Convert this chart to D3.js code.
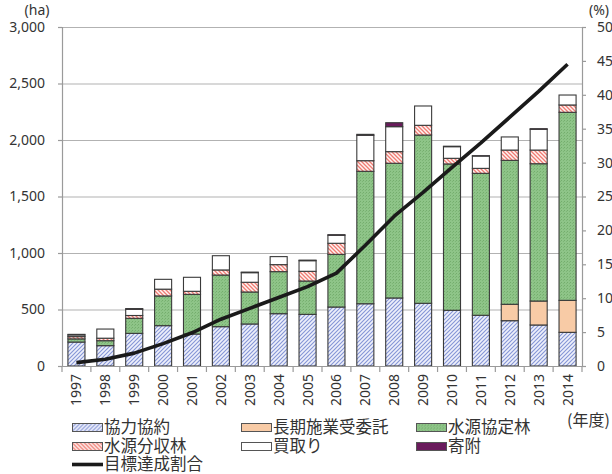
<!DOCTYPE html>
<html>
<head>
<meta charset="utf-8">
<script src="https://cdn.jsdelivr.net/npm/d3@7"></script>
<style>
  html, body { margin: 0; padding: 0; background: #fff; }
  svg { display: block; font-family: "Noto Sans CJK JP", "Noto Sans", sans-serif; }
</style>
</head>
<body>
<svg id="chart" width="612" height="474"></svg>
<script>
// 年度
const years = ["1997","1998","1999","2000","2001","2002","2003","2004","2005",
               "2006","2007","2008","2009","2010","2011","2012","2013","2014"];

// 面積 (ha) — 区分ごと
const kyoryokuKyoyaku = [212,180,289,357,283,348,372,463,457,522,551,602,555,493,449,401,363,298];
const chokiSesgyo     = [0,0,0,0,0,0,0,0,0,0,0,0,0,0,0,145,212,283];
const suigenKyotei    = [28,44,133,263,351,457,283,372,295,466,1172,1192,1489,1295,1256,1274,1215,1664];
const suigenBunshu    = [20,22,25,60,27,45,86,62,86,98,94,103,86,50,44,91,121,65];
const kaitori         = [15,81,55,87,124,126,85,71,94,71,225,221,171,103,109,116,184,88];
const kifu            = [5,0,6,0,0,0,5,0,5,5,8,35,0,4,3,0,5,0];

// 目標達成割合 (%)
const tassei = [0.5,1.0,1.9,3.3,4.9,6.9,8.5,10.1,11.7,13.7,17.8,22.1,25.6,29.3,32.9,36.7,40.5,44.5];

// 軸目盛
const haTicks  = [0,500,1000,1500,2000,2500,3000];
const pctTicks = [0,5,10,15,20,25,30,35,40,45,50];

const seriesNames = ["協力協約","長期施業受委託","水源協定林","水源分収林","買取り","寄附"];
const seriesData  = [kyoryokuKyoyaku, chokiSesgyo, suigenKyotei, suigenBunshu, kaitori, kifu];
const seriesFill  = ["url(#pBlue)","#f8cba6","url(#pGreen)","url(#pRed)","#ffffff","#6a1b5c"];

const rows = years.map((y, i) => {
  const r = { year: y };
  seriesNames.forEach((n, k) => r[n] = seriesData[k][i]);
  return r;
});

const svg = d3.select("#chart");
const plotLeft = 62, plotRight = 582, plotTop = 27, plotBottom = 366;

// パターン定義
const defs = svg.append("defs");
const pb = defs.append("pattern").attr("id","pBlue").attr("patternUnits","userSpaceOnUse")
  .attr("width",4).attr("height",4);
pb.append("rect").attr("width",4).attr("height",4).attr("fill","#eef0fb");
pb.append("path").attr("d","M-1,1 l2,-2 M0,4 l4,-4 M3,5 l2,-2")
  .attr("stroke","#8595d6").attr("stroke-width",1.1);

const pr = defs.append("pattern").attr("id","pRed").attr("patternUnits","userSpaceOnUse")
  .attr("width",4).attr("height",4);
pr.append("rect").attr("width",4).attr("height",4).attr("fill","#fff4f2");
pr.append("path").attr("d","M-1,3 l2,2 M0,0 l4,4 M3,-1 l2,2")
  .attr("stroke","#ef7b72").attr("stroke-width",1.3);

const pg = defs.append("pattern").attr("id","pGreen").attr("patternUnits","userSpaceOnUse")
  .attr("width",3).attr("height",3);
pg.append("rect").attr("width",3).attr("height",3).attr("fill","#8ec488");
pg.append("rect").attr("x",0).attr("y",0).attr("width",1).attr("height",1).attr("fill","#74ad6d");
pg.append("rect").attr("x",2).attr("y",1).attr("width",1).attr("height",1).attr("fill","#7db676");

// スケール
const x = d3.scaleBand().domain(years).range([plotLeft, plotRight]).paddingInner(0.41).paddingOuter(0.205);
const yHa = d3.scaleLinear().domain([0, 3000]).range([plotBottom, plotTop]);
const yPct = d3.scaleLinear().domain([0, 50]).range([plotBottom, plotTop]);

// 目盛線
svg.append("g").selectAll("line").data(haTicks.slice(1)).join("line")
  .attr("x1", plotLeft).attr("x2", plotRight)
  .attr("y1", d => yHa(d) + 0.5).attr("y2", d => yHa(d) + 0.5)
  .attr("stroke", "#b2b2b2").attr("stroke-width", 1.2);

// 積み上げ棒
const stack = d3.stack().keys(seriesNames)(rows);
svg.append("g").selectAll("g").data(stack).join("g")
  .attr("fill", (d, i) => seriesFill[i])
  .selectAll("rect").data(d => d.filter(s => s[1] - s[0] > 0)).join("rect")
  .attr("x", d => x(d.data.year))
  .attr("width", x.bandwidth())
  .attr("y", d => yHa(d[1]))
  .attr("height", d => yHa(d[0]) - yHa(d[1]))
  .attr("stroke", "#3a3a3a").attr("stroke-width", 1.1);

// 左軸
const axL = svg.append("g").attr("transform", `translate(${plotLeft},0)`)
  .call(d3.axisLeft(yHa).tickValues(haTicks).tickFormat(d3.format(",")).tickSize(4).tickPadding(13));
// 右軸
const axR = svg.append("g").attr("transform", `translate(${plotRight},0)`)
  .call(d3.axisRight(yPct).tickValues(pctTicks).tickSize(4).tickPadding(11));
[axL, axR].forEach(a => {
  a.select(".domain").attr("stroke", "#9a9a9a").attr("stroke-width", 1.2);
  a.selectAll(".tick line").attr("stroke", "#9a9a9a").attr("stroke-width", 1.2);
  a.selectAll("text").attr("font-size", 14).attr("fill", "#333")
    .attr("font-family", "'Noto Sans', sans-serif");
});

// 下軸
const boundaries = d3.range(years.length + 1).map(i => plotLeft + i * x.step());
svg.append("line").attr("x1", plotLeft).attr("x2", plotRight).attr("y1", plotBottom + 0.5).attr("y2", plotBottom + 0.5)
  .attr("stroke", "#9a9a9a").attr("stroke-width", 1.2);
svg.append("g").selectAll("line").data(boundaries).join("line")
  .attr("x1", d => d).attr("x2", d => d).attr("y1", plotBottom).attr("y2", plotBottom + 6)
  .attr("stroke", "#9a9a9a").attr("stroke-width", 1.2);
svg.append("g").selectAll("text").data(years).join("text")
  .attr("transform", d => `translate(${x(d) + x.bandwidth() / 2 + 5},${plotBottom + 8}) rotate(-90)`)
  .attr("text-anchor", "end")
  .attr("font-size", 14).attr("fill", "#333")
  .attr("font-family", "'Noto Sans', sans-serif")
  .text(d => d);

// 目標達成割合の折れ線
const line = d3.line().x((d, i) => x(years[i]) + x.bandwidth() / 2).y(d => yPct(d));
svg.append("path").datum(tassei).attr("d", line)
  .attr("fill", "none").attr("stroke", "#1a1a1a").attr("stroke-width", 3.6)
  .attr("stroke-linejoin", "round");

// 単位
svg.append("text").attr("x", 37).attr("y", 15).attr("text-anchor", "middle")
  .attr("font-size", 14).attr("fill", "#333").attr("font-family", "'Noto Sans', sans-serif").text("(ha)");
svg.append("text").attr("x", 589).attr("y", 15)
  .attr("font-size", 14).attr("fill", "#333").attr("font-family", "'Noto Sans', sans-serif").text("(%)");
svg.append("text").attr("x", 567).attr("y", 426)
  .attr("font-size", 16).attr("fill", "#333").text("(年度)");

// 凡例
const legendItems = [
  { name: "協力協約",       fill: seriesFill[0], col: 0, row: 0 },
  { name: "長期施業受委託", fill: seriesFill[1], col: 1, row: 0 },
  { name: "水源協定林",     fill: seriesFill[2], col: 2, row: 0 },
  { name: "水源分収林",     fill: seriesFill[3], col: 0, row: 1 },
  { name: "買取り",         fill: seriesFill[4], col: 1, row: 1 },
  { name: "寄附",           fill: seriesFill[5], col: 2, row: 1 },
  { name: "目標達成割合",   line: true,          col: 0, row: 2 }
];
const colX = [72, 241, 416];
const rowY = [427.5, 446.5, 464.5];
const lg = svg.append("g").selectAll("g").data(legendItems).join("g")
  .attr("transform", d => `translate(${colX[d.col]},${rowY[d.row]})`);
lg.filter(d => !d.line).append("rect")
  .attr("x", 0.5).attr("y", -4).attr("width", 30).attr("height", 8)
  .attr("fill", d => d.fill).attr("stroke", "#555").attr("stroke-width", 1);
lg.filter(d => d.line).append("line")
  .attr("x1", 0).attr("x2", 31).attr("y1", 0).attr("y2", 0)
  .attr("stroke", "#1a1a1a").attr("stroke-width", 3.6);
lg.append("text").attr("x", 32).attr("y", 0).attr("dy", "0.36em")
  .attr("font-size", 16.5).attr("fill", "#333").text(d => d.name);
</script>
</body>
</html>
